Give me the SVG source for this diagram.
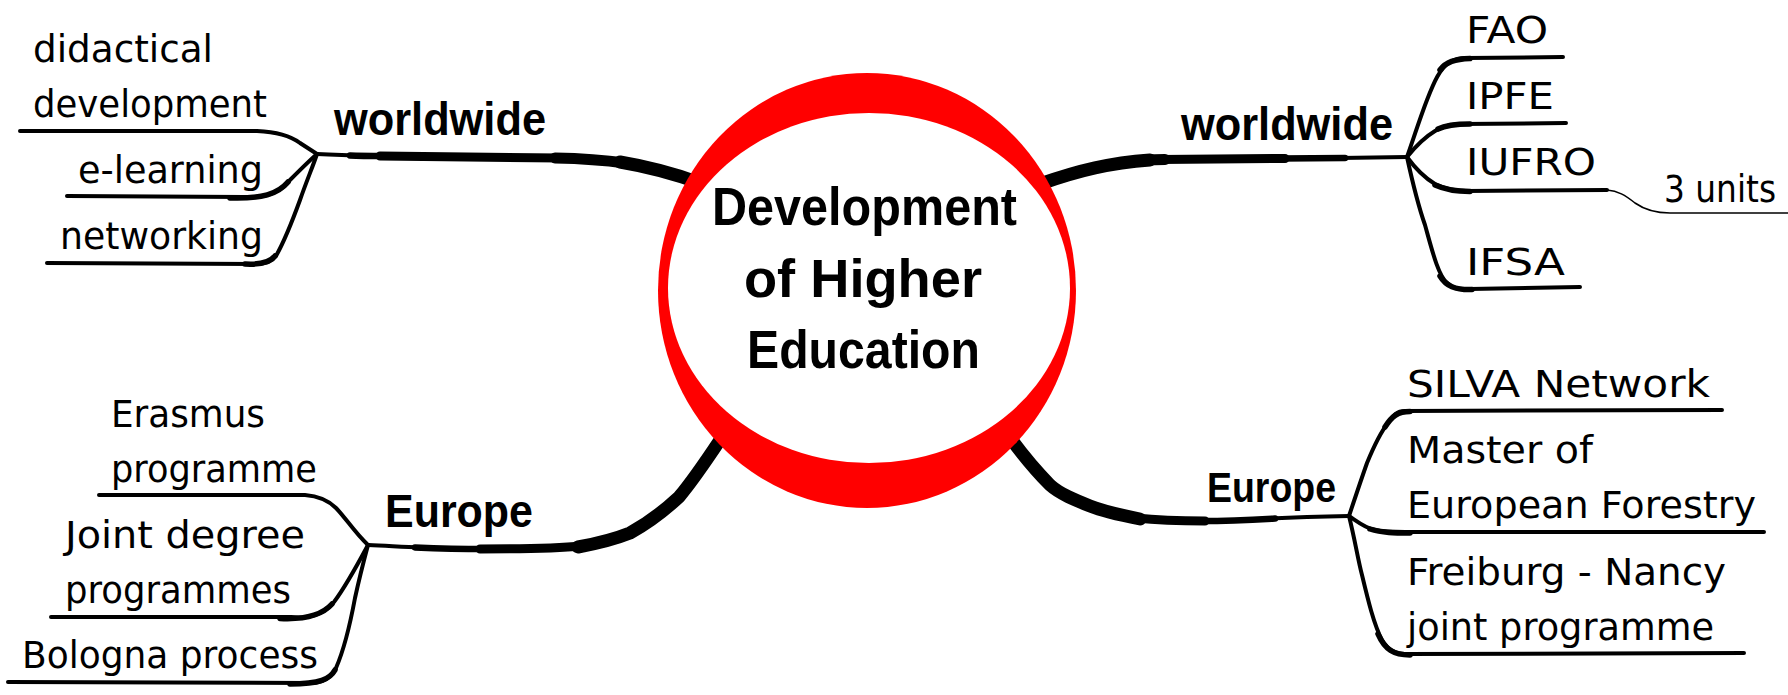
<svg xmlns="http://www.w3.org/2000/svg" width="1788" height="695" viewBox="0 0 1788 695">
<style>
.c{fill:none;stroke:#000;stroke-linecap:round;stroke-linejoin:round}
.w4{stroke-width:4}
.w5{stroke-width:5.5}
.w6{stroke-width:6.5}
.w9{stroke-width:9}
.w11{stroke-width:11}
.w13{stroke-width:13}
.thin{stroke-width:1.6}
.t{font-family:"DejaVu Sans","Noto Sans",sans-serif;font-size:37px;fill:#000}
.b{font-family:"Liberation Sans",Arial,sans-serif;font-weight:bold;fill:#000}
</style>
<rect width="1788" height="695" fill="#fff"/>
<g id="connectors">
  <!-- main branches -->
  <path class="c w4" d="M317,154 C330,154.5 345,155 355,155.5"/>
  <path class="c w6" d="M350,155.5 C360,156 370,156 385,156"/>
  <path class="c w9" d="M380,156 L560,158"/>
  <path class="c w11" d="M555,158 C580,158.5 600,159.5 625,163"/>
  <path class="c w13" d="M620,162 C650,167 675,174 700,183"/>

  <path class="c w4" d="M1407,157 L1340,158"/>
  <path class="c w6" d="M1345,158 L1280,158.5"/>
  <path class="c w9" d="M1285,158.5 L1160,159.5"/>
  <path class="c w11" d="M1165,159.5 L1144,160"/>
  <path class="c w13" d="M1150,160 C1110,163 1080,170 1040,184"/>

  <path class="c w4" d="M368,545 C390,546 405,547 420,547.5"/>
  <path class="c w6" d="M415,547.5 C440,548.5 460,549 485,549"/>
  <path class="c w9" d="M480,549 C530,549 560,548 582,546"/>
  <path class="c w13" d="M578,547 C600,543 615,539 630,533 C650,522 665,510 679,497 C695,478 708,458 724,434"/>

  <path class="c w4" d="M1349,516 C1320,516.5 1290,517.5 1270,518.5"/>
  <path class="c w6" d="M1275,518.5 C1250,520 1225,521 1201,521"/>
  <path class="c w9" d="M1205,521 C1180,521 1155,520 1136,518"/>
  <path class="c w13" d="M1140,519 C1120,515 1100,510 1090,506 C1075,500 1060,494 1050,485 C1035,470 1020,452 1003,428"/>

  <!-- left worldwide sub-branches -->
  <path class="c w4" d="M20,131 L257,131 C280,132 292,137 300,143 L317,154"/>
  <path class="c w4" d="M67,196 L245,197 C265,198 280,193 290,180 C300,170 310,160 317,154"/>
  <path class="c w5" d="M230,198 C262,199 278,194 288,182"/>
  <path class="c w4" d="M47,263 L257,264 C266,264 272,262 276,256 C285,240 292,222 300,200 C307,180 313,166 317,154"/>
  <path class="c w5" d="M245,264 C262,265 270,262 275,256"/>

  <!-- right worldwide sub-branches -->
  <path class="c w4" d="M1407,157 C1413,140 1420,118 1427,100 C1434,82 1440,68 1450,62 C1455,59 1460,58 1466,58 L1563,57"/>
  <path class="c w5" d="M1440,70 C1446,62 1455,59 1470,58.5"/>
  <path class="c w4" d="M1407,157 C1415,147 1425,137 1435,131 C1442,127 1450,124 1462,124 L1566,123"/>
  <path class="c w5" d="M1438,129 C1446,125 1455,124 1470,124"/>
  <path class="c w4" d="M1407,157 C1415,168 1425,178 1435,184 C1445,189 1455,191 1466,191 L1607,190"/>
  <path class="c w5" d="M1435,185 C1446,190 1456,191.5 1470,191.5"/>
  <path class="c thin" d="M1607,190 C1618,191 1625,195 1635,203 C1645,210 1655,213 1670,213 L1790,213"/>
  <path class="c w4" d="M1407,157 C1412,180 1418,205 1425,225 C1432,250 1438,275 1447,283 C1453,289 1460,290 1470,289 L1580,287"/>
  <path class="c w5" d="M1440,276 C1446,286 1455,290 1472,289.5"/>

  <!-- left Europe sub-branches -->
  <path class="c w4" d="M99,495 L305,495 C318,496 328,500 336,508 C345,517 355,533 368,545"/>
  <path class="c w4" d="M51,617 L291,617 C310,619 325,613 334,602 C343,590 352,575 368,545"/>
  <path class="c w5" d="M280,618.5 C310,620 324,613 332,604"/>
  <path class="c w4" d="M8,682 L310,683 C322,683 331,678 336,668 C343,652 350,625 355,598 C360,575 364,560 368,545"/>
  <path class="c w5" d="M290,684 C320,684 330,679 335,670"/>

  <!-- right Europe sub-branches -->
  <path class="c w4" d="M1349,516 C1356,495 1361,480 1367,463 C1374,446 1380,433 1388,423 C1393,415 1397,411 1405,411 L1722,410"/>
  <path class="c w5" d="M1385,427 C1392,416 1398,411.5 1410,411.5"/>
  <path class="c w4" d="M1349,516 C1358,522 1365,528 1375,530 C1385,532 1395,532 1405,532 L1764,532"/>
  <path class="c w5" d="M1370,529 C1382,533 1395,533 1410,533"/>
  <path class="c w4" d="M1349,516 C1355,540 1358,560 1362,575 C1368,600 1374,625 1382,640 C1388,650 1395,654 1405,654 L1744,653"/>
  <path class="c w5" d="M1378,634 C1385,650 1394,655 1410,655"/>
</g>

<g id="center">
  <ellipse cx="867" cy="290.5" rx="209" ry="217.5" fill="#ff0000"/>
  <ellipse cx="869" cy="288" rx="201" ry="175" fill="#fff"/>
  <text class="b" font-size="53" x="712" y="225" textLength="305" lengthAdjust="spacingAndGlyphs">Development</text>
  <text class="b" font-size="53" x="744" y="297" textLength="238" lengthAdjust="spacingAndGlyphs">of Higher</text>
  <text class="b" font-size="53" x="747" y="368" textLength="233" lengthAdjust="spacingAndGlyphs">Education</text>
</g>

<g id="worldwide-left">
  <text class="b" font-size="47" x="334" y="135" textLength="212" lengthAdjust="spacingAndGlyphs">worldwide</text>
</g>
<g id="didactical-development">
  <text class="t" x="33" y="62" textLength="180" lengthAdjust="spacingAndGlyphs">didactical</text>
  <text class="t" x="33" y="117" textLength="234" lengthAdjust="spacingAndGlyphs">development</text>
</g>
<g id="e-learning">
  <text class="t" x="78" y="183" textLength="185" lengthAdjust="spacingAndGlyphs">e-learning</text>
</g>
<g id="networking">
  <text class="t" x="60" y="249" textLength="203" lengthAdjust="spacingAndGlyphs">networking</text>
</g>

<g id="worldwide-right">
  <text class="b" font-size="47" x="1181" y="140" textLength="212" lengthAdjust="spacingAndGlyphs">worldwide</text>
</g>
<g id="fao">
  <text class="t" x="1466" y="43" textLength="82" lengthAdjust="spacingAndGlyphs">FAO</text>
</g>
<g id="ipfe">
  <text class="t" x="1466" y="109" textLength="88" lengthAdjust="spacingAndGlyphs">IPFE</text>
</g>
<g id="iufro">
  <text class="t" x="1466" y="175" textLength="130" lengthAdjust="spacingAndGlyphs">IUFRO</text>
</g>
<g id="three-units">
  <text class="t" x="1664" y="202" textLength="112" lengthAdjust="spacingAndGlyphs">3 units</text>
</g>
<g id="ifsa">
  <text class="t" x="1466" y="275" textLength="99" lengthAdjust="spacingAndGlyphs">IFSA</text>
</g>

<g id="europe-left">
  <text class="b" font-size="46" x="385" y="527" textLength="148" lengthAdjust="spacingAndGlyphs">Europe</text>
</g>
<g id="erasmus">
  <text class="t" x="111" y="427" textLength="154" lengthAdjust="spacingAndGlyphs">Erasmus</text>
  <text class="t" x="111" y="482" textLength="206" lengthAdjust="spacingAndGlyphs">programme</text>
</g>
<g id="joint-degree">
  <text class="t" x="65" y="548" textLength="240" lengthAdjust="spacingAndGlyphs">Joint degree</text>
  <text class="t" x="65" y="603" textLength="226" lengthAdjust="spacingAndGlyphs">programmes</text>
</g>
<g id="bologna">
  <text class="t" x="22" y="668" textLength="296" lengthAdjust="spacingAndGlyphs">Bologna process</text>
</g>

<g id="europe-right">
  <text class="b" font-size="42" x="1207" y="502" textLength="129" lengthAdjust="spacingAndGlyphs">Europe</text>
</g>
<g id="silva">
  <text class="t" x="1407" y="397" textLength="303" lengthAdjust="spacingAndGlyphs">SILVA Network</text>
</g>
<g id="master">
  <text class="t" x="1407" y="463" textLength="186" lengthAdjust="spacingAndGlyphs">Master of</text>
  <text class="t" x="1407" y="518" textLength="349" lengthAdjust="spacingAndGlyphs">European Forestry</text>
</g>
<g id="freiburg-nancy">
  <text class="t" x="1407" y="585" textLength="319" lengthAdjust="spacingAndGlyphs">Freiburg - Nancy</text>
  <text class="t" x="1407" y="640" textLength="307" lengthAdjust="spacingAndGlyphs">joint programme</text>
</g>
</svg>
